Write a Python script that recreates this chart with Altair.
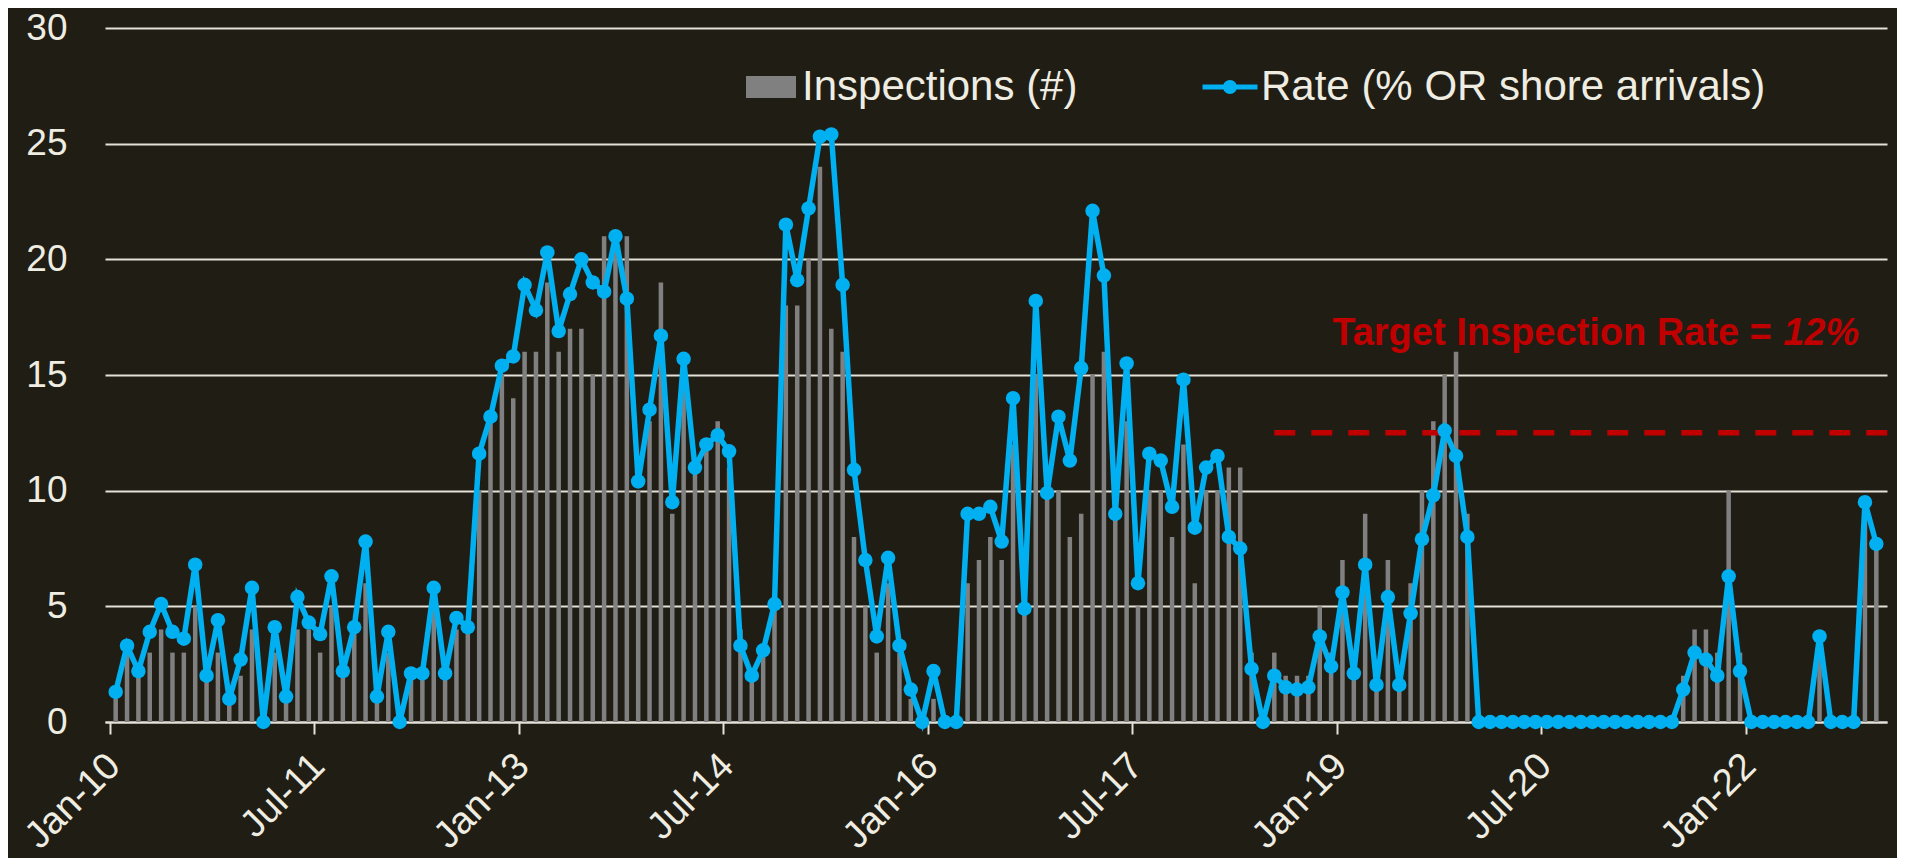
import altair as alt
import pandas as pd

# ---------------- data ----------------
months = pd.date_range("2010-01-01", periods=156, freq="MS").strftime("%b-%y").tolist()

rate = [
    1.3, 3.3, 2.2, 3.9, 5.1, 3.9, 3.6, 6.8, 2.0, 4.4,
    1.0, 2.7, 5.8, 0.0, 4.1, 1.1, 5.4, 4.3, 3.8, 6.3,
    2.2, 4.1, 7.8, 1.1, 3.9, 0.0, 2.1, 2.1, 5.8, 2.1,
    4.5, 4.1, 11.6, 13.2, 15.4, 15.8, 18.9, 17.8, 20.3, 16.9,
    18.5, 20.0, 19.0, 18.6, 21.0, 18.3, 10.4, 13.5, 16.7, 9.5,
    15.7, 11.0, 12.0, 12.4, 11.7, 3.3, 2.0, 3.1, 5.1, 21.5,
    19.1, 22.2, 25.3, 25.4, 18.9, 10.9, 7.0, 3.7, 7.1, 3.3,
    1.4, 0.0, 2.2, 0.0, 0.0, 9.0, 9.0, 9.3, 7.8, 14.0,
    4.9, 18.2, 9.9, 13.2, 11.3, 15.3, 22.1, 19.3, 9.0, 15.5,
    6.0, 11.6, 11.3, 9.3, 14.8, 8.4, 11.0, 11.5, 8.0, 7.5,
    2.3, 0.0, 2.0, 1.5, 1.4, 1.5, 3.7, 2.4, 5.6, 2.1,
    6.8, 1.6, 5.4, 1.6, 4.7, 7.9, 9.8, 12.6, 11.5, 8.0,
    0, 0, 0, 0, 0, 0, 0, 0, 0, 0,
    0, 0, 0, 0, 0, 0, 0, 0, 1.4, 3.0,
    2.7, 2.0, 6.3, 2.2, 0, 0, 0, 0, 0, 0,
    3.7, 0, 0, 0, 9.5, 7.7,
]

inspections = [
    1, 3, 2, 3, 4, 3, 3, 5, 2, 3,
    1, 2, 4, 0, 3, 1, 4, 4, 3, 5,
    2, 4, 6, 1, 3, 0, 2, 2, 5, 2,
    4, 4, 10, 13, 15, 14, 16, 16, 19, 16,
    17, 17, 15, 21, 21, 21, 10, 13, 19, 9,
    15, 11, 12, 13, 11, 4, 2, 3, 5, 18,
    18, 20, 24, 17, 16, 8, 5, 3, 6, 3,
    1, 0, 1, 0, 0, 6, 7, 8, 7, 12,
    5, 15, 10, 10, 8, 9, 15, 16, 9, 13,
    5, 10, 10, 8, 12, 6, 10, 10, 11, 11,
    3, 0, 3, 2, 2, 2, 5, 3, 7, 2,
    9, 2, 7, 2, 6, 10, 13, 15, 16, 9,
    0, 0, 0, 0, 0, 0, 0, 0, 0, 0,
    0, 0, 0, 0, 0, 0, 0, 0, 2, 4,
    4, 3, 10, 3, 0, 0, 0, 0, 0, 0,
    3, 0, 0, 0, 9, 8,
]

tick_labels = ["Jan-10", "Jul-11", "Jan-13", "Jul-14", "Jan-16",
               "Jul-17", "Jan-19", "Jul-20", "Jan-22"]
y_ticks = [0, 5, 10, 15, 20, 25, 30]
series_names = ["Inspections (#)", "Rate (% OR shore arrivals)"]

target_text = "Target Inspection Rate ="
target_pct = "12%"
target_level = 12.5
target_start = "Jul-18"
target_text_x = 145.8
target_pct_x = 146.8
target_text_y = 16.3

# ---------------- style ----------------
BG = "#201D15"
CREAM = "#EFEDE2"
GRID = "#E4E2D8"
GRAY = "#808080"
BLUE = "#00B0F0"
RED = "#C00000"
FONT = "Liberation Sans"

n = len(months)
df = pd.DataFrame({"i": list(range(n)), "month": months,
                   "rate": rate, "insp": inspections})

tick_vals = [months.index(t) - 0.5 for t in tick_labels]
label_expr = "[" + ",".join("'%s'" % t for t in tick_labels) + "][round((datum.value + 0.5) / 18)]"

x_scale = alt.Scale(domain=[-0.5, n - 0.5], nice=False, zero=False)
y_scale = alt.Scale(domain=[0, 30], nice=False)

x_axis = alt.Axis(values=tick_vals, labelExpr=label_expr, labelAngle=-45,
                  labelAlign="right", labelBaseline="middle", labelPadding=26,
                  labelOffset=4, labelFlush=False, labelOverlap=False,
                  labelFont=FONT, labelFontSize=38, labelColor=CREAM,
                  tickSize=12, tickWidth=2, tickColor=GRID,
                  domainColor=GRID, domainWidth=2, grid=False, title=None)
y_axis = alt.Axis(values=y_ticks, grid=True, gridColor=GRID, gridWidth=2,
                  domain=False, ticks=False, labelPadding=38,
                  labelFont=FONT, labelFontSize=37, labelColor=CREAM, title=None)


def X(field):
    return alt.X(field, scale=x_scale, axis=x_axis, title=None)


def Y(field):
    return alt.Y(field, scale=y_scale, axis=y_axis, title=None)


base = alt.Chart(df)

bars = base.mark_bar(size=4.5, color=GRAY).encode(x=X("i:Q"), y=Y("insp:Q"))

line = base.mark_line(color=BLUE, strokeWidth=5.5).encode(x=X("i:Q"), y=Y("rate:Q"))

points = base.mark_point(filled=True, size=210, color=BLUE, opacity=1, shape="circle").encode(
    x=X("i:Q"), y=Y("rate:Q")
)

target_df = pd.DataFrame({"x": [months.index(target_start)], "x2": [n], "y": [target_level]})
target_rule = alt.Chart(target_df).mark_rule(
    color=RED, strokeWidth=5.5, strokeDash=[21, 16]
).encode(x=X("x:Q"), x2="x2:Q", y=Y("y:Q"))

txt1 = alt.Chart(pd.DataFrame({"x": [target_text_x], "y": [target_text_y], "t": [target_text]})).mark_text(
    align="right", baseline="alphabetic", font=FONT, fontSize=38, fontWeight="bold", color=RED
).encode(x=X("x:Q"), y=Y("y:Q"), text="t:N")

txt2 = alt.Chart(pd.DataFrame({"x": [target_pct_x], "y": [target_text_y], "t": [target_pct]})).mark_text(
    align="left", baseline="alphabetic", font=FONT, fontSize=38, fontWeight="bold",
    fontStyle="italic", color=RED
).encode(x=X("x:Q"), y=Y("y:Q"), text="t:N")

SQUARE_PATH = "M-1,-0.44H1V0.44H-1Z"
LINE_PATH = ("M-1.1,-0.1H1.1V0.1H-1.1Z "
             "M-0.28,0A0.28,0.28 0 1 1 0.28,0A0.28,0.28 0 1 1 -0.28,0Z")

leg = alt.Legend(orient="none", legendX=641, legendY=34, direction="horizontal",
                 title=None, labelFont=FONT, labelFontSize=42, labelColor=CREAM,
                 symbolSize=2500, symbolStrokeWidth=0, columnPadding=124,
                 labelOffset=6, labelLimit=1000, padding=0, symbolOpacity=1)

legend_layer = alt.Chart(pd.DataFrame({"series": series_names})).transform_filter(
    "false"
).mark_point(filled=True, opacity=1).encode(
    color=alt.Color("series:N", scale=alt.Scale(domain=series_names, range=[GRAY, BLUE]), legend=leg),
    shape=alt.Shape("series:N", scale=alt.Scale(domain=series_names, range=[SQUARE_PATH, LINE_PATH]), legend=leg),
)

chart = alt.layer(bars, target_rule, line, points, txt1, txt2, legend_layer).properties(
    width=1782, height=694,
    autosize=alt.AutoSizeParams(type="none"),
    padding={"left": 97, "top": 20, "right": 10, "bottom": 136},
    background=BG,
).configure_view(stroke=None)

chart.save("out.html", embed_options={"renderer": "svg", "actions": False})
